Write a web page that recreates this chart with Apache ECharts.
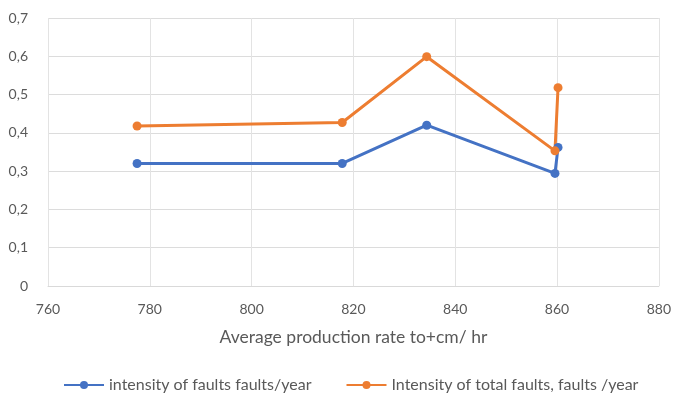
<!DOCTYPE html>
<html>
<head>
<meta charset="utf-8">
<script src="https://cdn.jsdelivr.net/npm/echarts@6/dist/echarts.min.js"></script>
<style>
  html, body { margin: 0; padding: 0; background: #ffffff; }
  #chart { width: 674px; height: 398px; }
</style>
</head>
<body>
<div id="chart"></div>
<script>
// Production rate (x) and fault intensities (y)
const rates = [777.5, 817.8, 834.4, 859.6, 860.2];
const faultIntensity = [0.32, 0.32, 0.42, 0.294, 0.362];
const totalFaultIntensity = [0.418, 0.427, 0.599, 0.353, 0.518];
const seriesNames = ['intensity of faults faults/year', 'Intensity of total faults, faults /year'];
const xTitle = 'Average production rate to+cm/ hr';

const pair = (xs, ys) => xs.map((x, i) => [x, ys[i]]);
const textColor = '#595959';
const fontFamily = 'Lato, "Open Sans", sans-serif';

const chart = echarts.init(document.getElementById('chart'));
chart.setOption({
  backgroundColor: '#ffffff',
  animation: false,
  textStyle: { fontFamily: fontFamily },
  grid: { left: 48, right: 14, top: 18, bottom: 112, containLabel: false },
  xAxis: {
    type: 'value', min: 760, max: 880, interval: 20,
    name: xTitle, nameLocation: 'middle', nameGap: 42,
    nameTextStyle: { color: textColor, fontSize: 17.5, fontFamily: fontFamily },
    axisLine: { show: true, lineStyle: { color: '#d9d9d9' } },
    axisTick: { show: false },
    axisLabel: { color: textColor, fontSize: 14, margin: 16 },
    splitLine: { show: true, lineStyle: { color: '#e3e3e3' } }
  },
  yAxis: {
    type: 'value', min: 0, max: 0.7, interval: 0.1,
    axisLine: { show: false },
    axisTick: { show: false },
    axisLabel: {
      color: textColor, fontSize: 14, margin: 20,
      formatter: v => v === 0 ? '0' : v.toFixed(1).replace('.', ',')
    },
    splitLine: { show: true, lineStyle: { color: '#dcdcdc' } }
  },
  legend: {
    top: 372, left: 58, itemGap: 34,
    itemWidth: 40, itemHeight: 10,
    textStyle: { color: textColor, fontSize: 16, fontFamily: fontFamily },
    data: seriesNames
  },
  series: [
    {
      name: seriesNames[0], type: 'line',
      data: pair(rates, faultIntensity),
      symbol: 'circle', symbolSize: 9,
      lineStyle: { width: 3, color: '#4472c4' },
      itemStyle: { color: '#4472c4' }
    },
    {
      name: seriesNames[1], type: 'line',
      data: pair(rates, totalFaultIntensity),
      symbol: 'circle', symbolSize: 9,
      lineStyle: { width: 3, color: '#ed7d31' },
      itemStyle: { color: '#ed7d31' }
    }
  ]
});
</script>
</body>
</html>
